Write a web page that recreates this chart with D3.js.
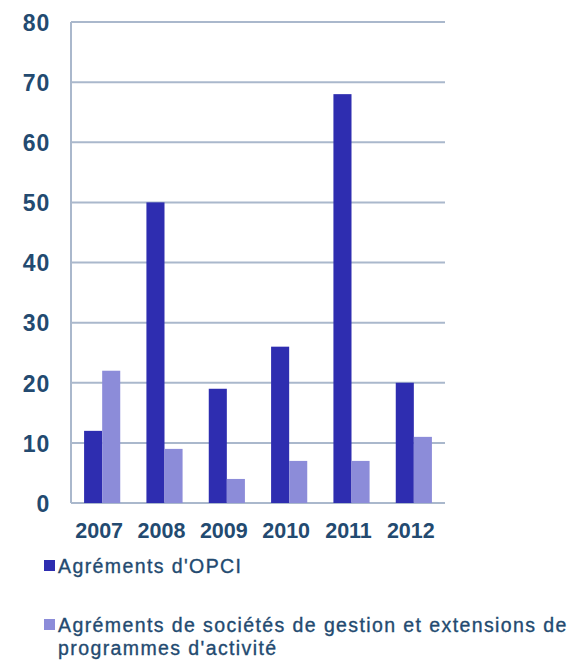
<!DOCTYPE html>
<html><head><meta charset="utf-8">
<script src="https://cdn.jsdelivr.net/npm/d3@7"></script>
<style>body{margin:0;background:#fff} text{font-family:"Liberation Sans",Arial,sans-serif}</style>
</head><body>
<script>
const years = ["2007","2008","2009","2010","2011","2012"];
const opci = [12,50,19,26,68,20];
const societes = [22,9,4,7,7,11];
const seriesNames = ["Agréments d'OPCI","Agréments de sociétés de gestion et extensions de|programmes d'activité"];
const yTicks = [0,10,20,30,40,50,60,70,80];
const colors = ["#2E2DB0","#8C8CD9"];

(function(){
const W=574,H=660;
const svg=d3.select("body").append("svg").attr("width",W).attr("height",H);
const mLeft=71,mRight=445,mTop=22,mBottom=503;
const x=d3.scaleBand().domain(years).range([mLeft,mRight]).paddingInner(0.42).paddingOuter(0.21);
const xs=d3.scaleBand().domain([0,1]).range([0,x.bandwidth()]);
const y=d3.scaleLinear().domain([0,80]).range([mBottom,mTop]);
const textCol="#234A70", gridCol="#AAB8CC";
const FF='"Liberation Sans", Arial, sans-serif';

svg.append("g").selectAll("line").data(yTicks).join("line")
  .attr("x1",mLeft).attr("x2",mRight).attr("y1",d=>y(d)).attr("y2",d=>y(d))
  .attr("stroke",gridCol).attr("stroke-width",2);
svg.append("line").attr("x1",mLeft).attr("x2",mLeft).attr("y1",mTop).attr("y2",mBottom)
  .attr("stroke",gridCol).attr("stroke-width",2);

const yAxis=d3.axisLeft(y).tickValues(yTicks).tickSize(0).tickPadding(21);
const gy=svg.append("g").attr("transform",`translate(${mLeft},0)`).call(yAxis);
gy.attr("font-family",FF).attr("font-size",null);
gy.select(".domain").remove();
gy.selectAll("text").attr("fill",textCol).attr("font-family",FF).attr("font-size","23px").attr("font-weight","bold").attr("letter-spacing","0.8px").attr("dy","0.36em");

const xAxis=d3.axisBottom(x).tickSize(0).tickPadding(20);
const gx=svg.append("g").attr("transform",`translate(0,${mBottom})`).call(xAxis);
gx.attr("font-family",FF).attr("font-size",null);
gx.select(".domain").remove();
gx.selectAll("text").attr("fill",textCol).attr("font-family",FF).attr("font-size","21.5px").attr("font-weight","bold").attr("dx","-3px");

[opci,societes].forEach((vals,si)=>{
  svg.append("g").selectAll("rect").data(vals).join("rect")
    .attr("x",(d,i)=>x(years[i])+xs(si)).attr("width",xs.bandwidth())
    .attr("y",d=>y(d)).attr("height",d=>y(0)-y(d))
    .attr("fill",colors[si]);
});

const legY=[573,632];
seriesNames.forEach((name,i)=>{
  const g=svg.append("g");
  g.append("rect").attr("x",44).attr("y",legY[i]-13).attr("width",11).attr("height",11).attr("fill",colors[i]);
  const t=g.append("text").attr("x",58).attr("y",legY[i]).attr("fill",textCol)
    .attr("font-family",FF).attr("font-size","19.5px").attr("letter-spacing","1.4px")
    .attr("stroke",textCol).attr("stroke-width",0.35);
  name.split("|").forEach((ln,j)=>{
    t.append("tspan").attr("x",58).attr("dy",j?23:0).text(ln);
  });
});
})();
</script>
</body></html>
